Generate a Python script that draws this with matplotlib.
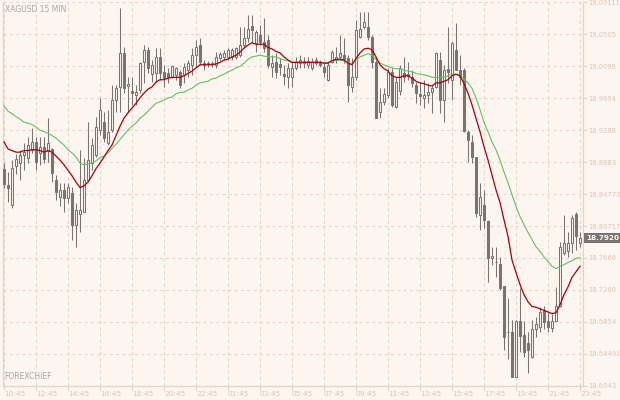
import matplotlib
matplotlib.use("Agg")
import matplotlib.pyplot as plt
import numpy as np

# XAGUSD 15 min candles
opens = [
    18.880, 18.859, 18.834, 18.884, 18.887, 18.898, 18.894, 18.904, 18.914, 18.900,
    18.908, 18.903, 18.905, 18.865, 18.844, 18.853, 18.843, 18.849, 18.809, 18.823,
    18.825, 18.866, 18.887, 18.898, 18.929, 18.939, 18.913, 18.929, 18.967, 18.984,
    19.027, 18.985, 18.979, 18.974, 18.980, 19.015, 19.031, 19.000, 19.001, 19.022,
    19.003, 19.001, 18.996, 18.999, 19.003, 18.999, 19.005, 19.012, 19.024, 19.037,
    19.014, 19.014, 19.014, 19.012, 19.020, 19.022, 19.022, 19.022, 19.022, 19.024,
    19.037, 19.046, 19.061, 19.040, 19.050, 19.041, 19.043, 19.009, 19.015, 19.013,
    19.000, 18.996, 18.996, 19.008, 19.014, 19.017, 19.012, 19.008, 19.018, 19.015,
    19.009, 18.993, 19.015, 19.018, 19.022, 19.024, 19.020, 18.984, 18.996, 19.047,
    19.060, 19.060, 19.047, 19.015, 18.952, 18.965, 18.974, 19.003, 18.958, 18.979,
    19.001, 19.000, 18.996, 18.986, 18.975, 18.970, 18.974, 18.977, 18.984, 19.018,
    18.967, 19.007, 18.993, 19.031, 19.005, 19.005, 18.927, 18.914, 18.895, 18.821,
    18.834, 18.813, 18.766, 18.762, 18.759, 18.731, 18.672, 18.673, 18.616, 18.686,
    18.669, 18.659, 18.641, 18.677, 18.679, 18.701, 18.686, 18.678, 18.686, 18.705,
    18.773, 18.775, 18.786, 18.823, 18.785]
highs = [
    18.887, 18.876, 18.891, 18.899, 18.904, 18.913, 18.920, 18.932, 18.920, 18.920,
    18.920, 18.944, 18.906, 18.872, 18.862, 18.862, 18.862, 18.857, 18.837, 18.904,
    18.894, 18.939, 18.919, 18.946, 18.970, 18.952, 18.955, 18.986, 18.986, 19.084,
    19.034, 18.996, 18.996, 18.986, 19.015, 19.037, 19.034, 19.018, 19.033, 19.033,
    19.012, 19.008, 19.012, 19.009, 19.005, 19.014, 19.018, 19.033, 19.043, 19.046,
    19.018, 19.017, 19.017, 19.028, 19.028, 19.031, 19.033, 19.033, 19.034, 19.060,
    19.060, 19.075, 19.075, 19.056, 19.062, 19.071, 19.050, 19.024, 19.027, 19.020,
    19.012, 19.014, 19.015, 19.022, 19.024, 19.022, 19.022, 19.020, 19.022, 19.018,
    19.015, 19.015, 19.031, 19.034, 19.050, 19.046, 19.024, 19.020, 19.069, 19.079,
    19.079, 19.079, 19.050, 19.020, 18.982, 18.982, 19.008, 19.008, 18.996, 19.012,
    19.022, 19.015, 19.005, 18.990, 18.990, 18.993, 18.989, 18.986, 19.028, 19.028,
    19.012, 19.060, 19.041, 19.065, 19.024, 19.008, 18.929, 18.923, 18.895, 18.862,
    18.853, 18.815, 18.780, 18.781, 18.768, 18.731, 18.716, 18.688, 18.688, 18.729,
    18.686, 18.673, 18.688, 18.692, 18.704, 18.705, 18.698, 18.695, 18.730, 18.787,
    18.821, 18.799, 18.821, 18.825, 18.799]
lows = [
    18.856, 18.838, 18.830, 18.873, 18.866, 18.878, 18.887, 18.900, 18.878, 18.885,
    18.887, 18.889, 18.863, 18.840, 18.832, 18.825, 18.837, 18.790, 18.781, 18.799,
    18.825, 18.866, 18.878, 18.895, 18.923, 18.914, 18.910, 18.927, 18.952, 18.952,
    18.976, 18.952, 18.961, 18.961, 18.976, 18.989, 19.001, 18.990, 18.990, 18.993,
    18.984, 18.989, 18.995, 18.993, 18.982, 18.989, 18.996, 18.999, 19.009, 19.012,
    19.005, 19.009, 19.009, 19.008, 19.018, 19.018, 19.018, 19.018, 19.019, 19.022,
    19.033, 19.041, 19.041, 19.028, 19.037, 19.028, 19.008, 18.996, 18.995, 18.999,
    18.986, 18.982, 18.984, 19.005, 19.008, 19.008, 19.008, 19.005, 19.012, 19.009,
    18.996, 18.991, 19.014, 19.014, 19.018, 19.014, 18.965, 18.977, 18.993, 19.046,
    19.058, 19.043, 19.008, 18.944, 18.944, 18.961, 18.970, 18.958, 18.957, 18.974,
    18.990, 18.993, 18.984, 18.963, 18.961, 18.957, 18.963, 18.951, 18.982, 18.951,
    18.939, 18.989, 18.967, 19.005, 18.986, 18.927, 18.889, 18.887, 18.819, 18.802,
    18.805, 18.736, 18.758, 18.743, 18.726, 18.650, 18.638, 18.615, 18.615, 18.647,
    18.641, 18.621, 18.640, 18.666, 18.673, 18.676, 18.673, 18.673, 18.686, 18.704,
    18.771, 18.768, 18.773, 18.777, 18.781]
closes = [
    18.861, 18.856, 18.881, 18.892, 18.898, 18.901, 18.910, 18.914, 18.889, 18.908,
    18.892, 18.913, 18.875, 18.851, 18.853, 18.843, 18.857, 18.809, 18.827, 18.827,
    18.866, 18.891, 18.910, 18.933, 18.955, 18.919, 18.927, 18.967, 18.982, 19.027,
    18.982, 18.988, 18.976, 18.977, 19.014, 19.031, 19.008, 19.012, 19.022, 19.001,
    18.995, 18.996, 19.010, 19.008, 18.986, 19.009, 19.014, 19.024, 19.034, 19.015,
    19.012, 19.013, 19.013, 19.022, 19.026, 19.027, 19.031, 19.031, 19.033, 19.037,
    19.046, 19.058, 19.056, 19.053, 19.041, 19.033, 19.012, 19.014, 19.003, 19.009,
    18.998, 19.008, 19.008, 19.015, 19.018, 19.014, 19.017, 19.015, 19.014, 19.012,
    19.003, 19.012, 19.028, 19.022, 19.027, 19.019, 18.986, 18.996, 19.056, 19.058,
    19.066, 19.047, 19.015, 18.944, 18.965, 18.975, 19.003, 18.961, 18.990, 19.008,
    18.996, 18.998, 18.989, 18.976, 18.972, 18.974, 18.977, 18.982, 19.027, 18.967,
    19.005, 19.003, 19.040, 19.005, 18.996, 18.928, 18.917, 18.895, 18.824, 18.844,
    18.815, 18.767, 18.769, 18.761, 18.729, 18.666, 18.673, 18.616, 18.686, 18.667,
    18.647, 18.650, 18.677, 18.683, 18.698, 18.685, 18.679, 18.687, 18.705, 18.780,
    18.786, 18.786, 18.818, 18.794, 18.792]

# moving averages as drawn on the chart
ma_fast = [
    18.914, 18.905, 18.903, 18.901, 18.901, 18.903, 18.903, 18.904, 18.904, 18.903,
    18.901, 18.903, 18.901, 18.896, 18.891, 18.885, 18.878, 18.871, 18.863, 18.856,
    18.858, 18.863, 18.871, 18.880, 18.887, 18.895, 18.903, 18.910, 18.922, 18.934,
    18.944, 18.951, 18.957, 18.963, 18.970, 18.976, 18.981, 18.984, 18.990, 18.993,
    18.993, 18.995, 18.996, 18.996, 18.996, 18.998, 19.001, 19.004, 19.008, 19.012,
    19.012, 19.012, 19.012, 19.013, 19.015, 19.018, 19.019, 19.022, 19.024, 19.028,
    19.033, 19.037, 19.040, 19.038, 19.038, 19.038, 19.034, 19.032, 19.029, 19.027,
    19.022, 19.018, 19.015, 19.015, 19.015, 19.015, 19.015, 19.015, 19.015, 19.015,
    19.014, 19.014, 19.017, 19.019, 19.019, 19.018, 19.014, 19.012, 19.020, 19.027,
    19.032, 19.033, 19.031, 19.022, 19.012, 19.007, 19.004, 18.998, 18.996, 18.996,
    18.998, 18.998, 18.995, 18.991, 18.989, 18.988, 18.986, 18.985, 18.989, 18.989,
    18.991, 18.993, 18.998, 19.000, 18.998, 18.988, 18.976, 18.961, 18.944, 18.927,
    18.908, 18.891, 18.872, 18.853, 18.837, 18.815, 18.794, 18.764, 18.748, 18.733,
    18.720, 18.711, 18.705, 18.704, 18.702, 18.700, 18.698, 18.696, 18.697, 18.707,
    18.720, 18.730, 18.742, 18.749, 18.756]
ma_slow = [
    18.960, 18.953, 18.950, 18.946, 18.943, 18.939, 18.938, 18.936, 18.933, 18.929,
    18.927, 18.925, 18.922, 18.919, 18.914, 18.910, 18.904, 18.900, 18.895, 18.887,
    18.885, 18.886, 18.887, 18.890, 18.894, 18.896, 18.900, 18.906, 18.911, 18.917,
    18.923, 18.929, 18.934, 18.938, 18.944, 18.948, 18.953, 18.958, 18.963, 18.965,
    18.967, 18.970, 18.971, 18.975, 18.977, 18.977, 18.980, 18.982, 18.986, 18.989,
    18.990, 18.991, 18.994, 18.995, 18.998, 19.000, 19.003, 19.005, 19.008, 19.010,
    19.014, 19.019, 19.022, 19.023, 19.024, 19.023, 19.022, 19.022, 19.022, 19.020,
    19.018, 19.017, 19.015, 19.015, 19.015, 19.015, 19.015, 19.015, 19.015, 19.015,
    19.015, 19.015, 19.017, 19.018, 19.018, 19.017, 19.015, 19.013, 19.018, 19.022,
    19.024, 19.026, 19.024, 19.019, 19.014, 19.012, 19.010, 19.008, 19.007, 19.007,
    19.005, 19.004, 19.003, 19.001, 19.000, 18.999, 18.998, 18.996, 18.996, 18.996,
    18.996, 18.998, 19.000, 19.000, 18.998, 18.994, 18.989, 18.982, 18.970, 18.955,
    18.939, 18.927, 18.914, 18.904, 18.891, 18.876, 18.862, 18.847, 18.832, 18.819,
    18.809, 18.799, 18.790, 18.781, 18.775, 18.768, 18.762, 18.756, 18.753, 18.756,
    18.758, 18.761, 18.763, 18.766, 18.767]

time_labels = ['10:45', '12:45', '14:45', '16:45', '18:45', '20:45', '22:45', '01:45',
               '03:45', '05:45', '07:45', '09:45', '11:45', '13:45', '15:45', '17:45',
               '19:45', '21:45', '23:45']
price_ticks = [18.6043, 18.64491, 18.6854, 18.7260, 18.7666, 18.80717, 18.84773,
               18.8883, 18.9288, 18.9694, 19.0099, 19.0505, 19.09111]
price_labels = ['18.6043', '18.64491', '18.6854', '18.7260', '18.7666', '18.80717',
                '18.84773', '18.8883', '18.9288', '18.9694', '19.0099', '19.0505',
                '19.09111']
last_price = 18.7920

bg = '#fdf6f0'
candle = '#797470'
gridc = '#e3d5cc'
spinec = '#e2d2c8'
textc = '#dcc4b3'
plt.rcParams['font.family'] = ['DejaVu Sans']

fig = plt.figure(figsize=(6.2, 4), dpi=100, facecolor=bg)
ax = fig.add_axes([3 / 620, 14 / 400, 580 / 620, 384 / 400], facecolor=bg)

o = np.array(opens)
h = np.array(highs)
l = np.array(lows)
c = np.array(closes)
idx = np.arange(len(c))

ax.vlines(idx, l, h, color=candle, lw=0.75, zorder=3)
up = c >= o
bot = np.minimum(o, c)
hgt = np.maximum(np.abs(c - o), 0.0008)
ax.bar(idx[up], hgt[up], bottom=bot[up], width=0.5, facecolor=bg,
       edgecolor=candle, linewidth=0.75, zorder=4)
ax.bar(idx[~up], hgt[~up], bottom=bot[~up], width=0.5, facecolor=candle,
       edgecolor=candle, linewidth=0.75, zorder=4)

ax.plot(idx, ma_slow, color='#62c062', lw=0.8, zorder=5)
ax.plot(idx, ma_fast, color='#a8000a', lw=0.9, zorder=6)

ax.set_xlim(-0.25, len(c) - 0.25)
ax.set_ylim(18.6040, 19.0917)

ax.set_xticks(np.arange(0, len(c), 8))
ax.set_xticklabels(time_labels)
for t in ax.get_xticklabels():
    t.set_ha('left')
ax.yaxis.tick_right()
ax.set_yticks(price_ticks)
ax.set_yticklabels(price_labels)
ax.tick_params(axis='both', length=3, width=0.75, color=spinec, labelcolor=textc)
ax.tick_params(axis='x', pad=0.5, labelsize=5.3)
ax.tick_params(axis='y', pad=0.8, labelsize=4.9)

ax.grid(True, color=gridc, lw=0.75, linestyle=(0, (3, 3)), zorder=0)
ax.set_axisbelow(True)
for s in ['left', 'right', 'bottom']:
    ax.spines[s].set_color(spinec)
    ax.spines[s].set_linewidth(0.9)
ax.spines['top'].set_visible(False)

ax.text(0.003, 0.992, 'XAGUSD 15 MIN', transform=ax.transAxes, ha='left', va='top',
        fontsize=5.5, color='#a6a6a6', zorder=7)
ax.text(0.003, 0.012, 'FOREXCHIEF', transform=ax.transAxes, ha='left', va='bottom',
        fontsize=5.5, color='#a6a6a6', zorder=7)

ax.annotate('18.7920', xy=(1, last_price), xycoords=('axes fraction', 'data'),
            xytext=(2.2, 0), textcoords='offset points', ha='left', va='center',
            fontsize=5.2, color='white', fontweight='bold', annotation_clip=False,
            bbox=dict(boxstyle='square,pad=0.25', fc='#7a7471', ec='none'))

fig.savefig('out.png', dpi=100, facecolor=bg)
